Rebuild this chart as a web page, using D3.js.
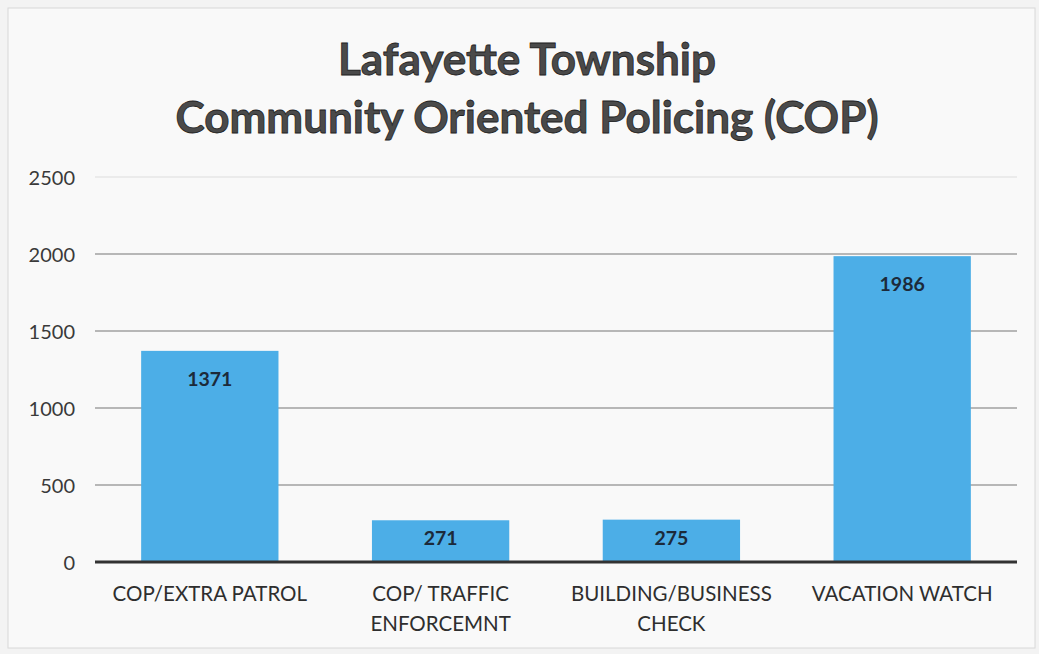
<!DOCTYPE html>
<html><head><meta charset="utf-8">
<script src="https://cdn.jsdelivr.net/npm/d3@7"></script>
<style>
html,body{margin:0;padding:0;background:#f2f2f2;}
svg{display:block;}
</style></head>
<body>
<svg id="chart" width="1039" height="654"></svg>
<script>
const categories = [["COP/EXTRA PATROL"], ["COP/ TRAFFIC", "ENFORCEMNT"], ["BUILDING/BUSINESS", "CHECK"], ["VACATION WATCH"]];
const values = [1371, 271, 275, 1986];
const yTicks = [0, 500, 1000, 1500, 2000, 2500];
const titleLines = ["Lafayette Township", "Community Oriented Policing (COP)"];

(function () {
const W = 1039, H = 654;
const svg = d3.select("#chart");
const font = "Lato, 'Open Sans', sans-serif";

svg.append("rect").attr("x", 0).attr("y", 0).attr("width", W).attr("height", H).attr("fill", "#f3f3f3");
svg.append("rect").attr("x", 8).attr("y", 8).attr("width", W - 12).attr("height", H - 14)
  .attr("fill", "#f9f9f9").attr("stroke", "#d8d8d8").attr("stroke-width", 1);

const mLeft = 95, mRight = 1017, mTop = 177, mBottom = 562;
const x = d3.scaleBand().domain(d3.range(values.length)).range([mLeft, mRight]).paddingInner(0.405).paddingOuter(0.2);
const y = d3.scaleLinear().domain([0, 2500]).range([mBottom, mTop]);

svg.append("g").selectAll("line").data(yTicks.filter(d => d > 0)).join("line")
  .attr("x1", mLeft).attr("x2", mRight)
  .attr("y1", d => y(d)).attr("y2", d => y(d))
  .attr("stroke", d => d === 2500 ? "#e6e6e6" : "#a0a0a0")
  .attr("stroke-width", 1.5);

const yAxis = d3.axisLeft(y).tickValues(yTicks).tickFormat(d3.format("d")).tickSize(0).tickPadding(0);
const ya = svg.append("g").attr("transform", `translate(${mLeft - 20},0)`).call(yAxis);
ya.select(".domain").remove();
ya.selectAll("text").attr("font-family", font).attr("font-size", 20).attr("fill", "#3a3a3a").attr("dy", "0.35em");

svg.append("g").selectAll("rect").data(values).join("rect")
  .attr("x", (d, i) => x(i)).attr("width", x.bandwidth())
  .attr("y", d => y(d)).attr("height", d => y(0) - y(d))
  .attr("fill", "#4caee7");

svg.append("g").selectAll("text").data(values).join("text")
  .attr("x", (d, i) => x(i) + x.bandwidth() / 2)
  .attr("y", d => y(d) + Math.min(35, (y(0) - y(d)) / 2 + 4))
  .attr("text-anchor", "middle")
  .attr("font-family", font).attr("font-weight", 700).attr("font-size", 19.5)
  .attr("fill", "#1c2a3a")
  .text(d => d);

svg.append("line").attr("x1", mLeft).attr("x2", mRight).attr("y1", y(0)).attr("y2", y(0))
  .attr("stroke", "#333").attr("stroke-width", 3);

const xa = svg.append("g");
categories.forEach((lines, i) => {
  const t = xa.append("text").attr("text-anchor", "middle")
    .attr("font-family", font).attr("font-size", 20.5).attr("fill", "#2e2e2e");
  lines.forEach((ln, j) => {
    t.append("tspan").attr("x", x(i) + x.bandwidth() / 2).attr("y", 601 + j * 30).text(ln);
  });
});

titleLines.forEach((ln, i) => {
  svg.append("text").attr("x", 527).attr("y", 75 + i * 58)
    .attr("text-anchor", "middle")
    .attr("font-family", font).attr("font-weight", 700).attr("font-size", 44)
    .attr("fill", "#4a4a4a").attr("stroke", "#222").attr("stroke-width", 0.8)
    .text(ln);
});
})();
</script>
</body></html>
